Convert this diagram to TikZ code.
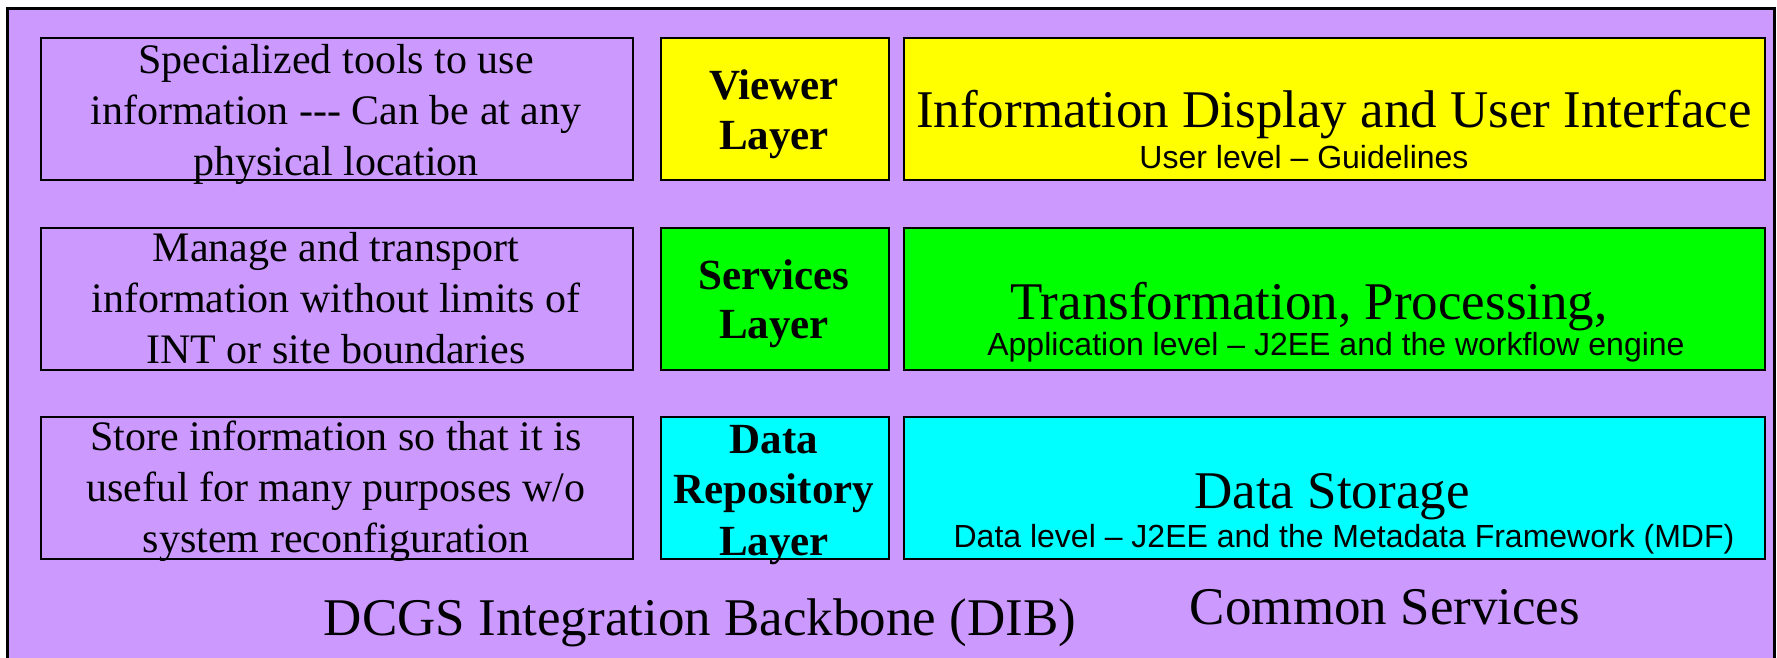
\documentclass[tikz,border=0pt]{standalone}
\usepackage{fontspec}
\setmainfont{Liberation Serif}
\newfontfamily\arl{Liberation Sans}
\definecolor{lav}{HTML}{CC99FF}
\definecolor{yel}{HTML}{FFFF00}
\definecolor{grn}{HTML}{00FF00}
\definecolor{cyn}{HTML}{00FFFF}
\tikzset{
  box/.style={draw=black, line width=2pt, inner sep=0pt, anchor=north west},
  desc/.style={anchor=base, inner sep=0pt, font=\fontsize{42}{50}\selectfont},
  lay/.style={anchor=base, inner sep=0pt, font=\bfseries\fontsize{43}{50}\selectfont},
  big/.style={anchor=base, inner sep=0pt, font=\fontsize{53}{60}\selectfont},
  small/.style={anchor=base, inner sep=0pt, font=\arl\fontsize{32}{38}\selectfont},
}
\begin{document}
\begin{tikzpicture}[x=1pt,y=-1pt]
\useasboundingbox (0,0) rectangle (1777,657);
\clip (0,0) rectangle (1777,657);
\fill[white] (0,0) rectangle (1777,657);
\draw[line width=3pt, fill=lav] (7,8) rectangle (1774,700);
% row boxes
\foreach \r/\t in {1/37,2/227,3/416}{
  \node[box, fill=lav, minimum width=592pt, minimum height=142pt] (L\r) at (40,\t) {};
}
\node[box, fill=yel, minimum width=228pt, minimum height=142pt] (M1) at (660,37) {};
\node[box, fill=grn, minimum width=228pt, minimum height=142pt] (M2) at (660,227) {};
\node[box, fill=cyn, minimum width=228pt, minimum height=142pt] (M3) at (660,416) {};
\node[box, fill=yel, minimum width=861pt, minimum height=142pt] (R1) at (903,37) {};
\node[box, fill=grn, minimum width=861pt, minimum height=142pt] (R2) at (903,227) {};
\node[box, fill=cyn, minimum width=861pt, minimum height=142pt] (R3) at (903,416) {};
% left descriptions
\node[desc] (l1a) at (336,73) {Specialized tools to use};
\node[desc] (l1b) at (336,124) {information -{}-{}- Can be at any};
\node[desc] (l1c) at (336,175) {physical location};
\node[desc] (l2a) at (336,261) {Manage and transport};
\node[desc] (l2b) at (336,312) {information without limits of};
\node[desc] (l2c) at (336,363) {INT or site boundaries};
\node[desc] (l3a) at (336,450) {Store information so that it is};
\node[desc] (l3b) at (336,501) {useful for many purposes w/o};
\node[desc] (l3c) at (336,552) {system reconfiguration};
% layer names
\node[lay] (m1a) at (774,99) {Viewer};
\node[lay] (m1b) at (774,149) {Layer};
\node[lay] (m2a) at (774,289) {Services};
\node[lay] (m2b) at (774,338) {Layer};
\node[lay] (m3a) at (774,453) {Data};
\node[lay] (m3b) at (774,503) {Repository};
\node[lay] (m3c) at (774,555) {Layer};
% right texts
\node[big] (r1a) at (1334,127) {Information Display and User Interface};
\node[small] (r1b) at (1304,168) {User level – Guidelines};
\node[big] (r2a) at (1309,319) {Transformation, Processing,};
\node[small] (r2b) at (1336,355) {Application level – J2EE and the workflow engine};
\node[big] (r3a) at (1332,508) {Data Storage};
\node[small] (r3b) at (1344,547) {Data level – J2EE and the Metadata Framework (MDF)};
% bottom labels
\node[big] (dib) at (700,635) {DCGS Integration Backbone (DIB)};
\node[big] (cs) at (1385,624) {Common Services};
\end{tikzpicture}
\end{document}
